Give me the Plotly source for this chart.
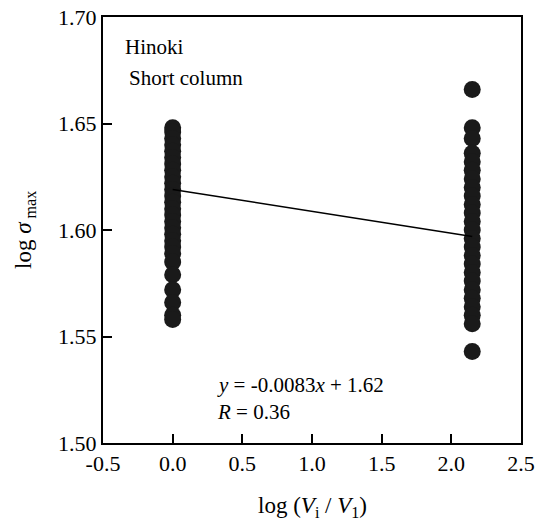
import plotly.graph_objects as go

# data
x_left = 0.0
y_left = [1.648, 1.646, 1.643, 1.640, 1.637, 1.634, 1.631, 1.628, 1.625, 1.622,
          1.619, 1.616, 1.613, 1.610, 1.607, 1.604, 1.601, 1.598, 1.595, 1.592,
          1.589, 1.585, 1.579, 1.572, 1.566, 1.560, 1.558]
x_right = 2.15
y_right = [1.666, 1.648, 1.643, 1.636, 1.632, 1.628, 1.624, 1.620, 1.616, 1.612,
           1.608, 1.604, 1.600, 1.596, 1.592, 1.588, 1.584, 1.580, 1.576, 1.572,
           1.568, 1.564, 1.560, 1.556, 1.543]
fit_x = [0.0, 2.15]
fit_y = [1.619, 1.597]
x_ticks = [-0.5, 0.0, 0.5, 1.0, 1.5, 2.0, 2.5]
x_ticktext = ["-0.5", "0.0", "0.5", "1.0", "1.5", "2.0", "2.5"]
y_ticks = [1.50, 1.55, 1.60, 1.65, 1.70]
y_ticktext = ["1.50", "1.55", "1.60", "1.65", "1.70"]

FONT = "Liberation Serif"

fig = go.Figure()
xs = [x_left] * len(y_left) + [x_right] * len(y_right)
ys = y_left + y_right
fig.add_trace(go.Scatter(x=xs, y=ys, mode="markers",
                         marker=dict(size=17, color="#1a1a1a", line=dict(width=0)),
                         showlegend=False, hoverinfo="skip"))
fig.add_trace(go.Scatter(x=fit_x, y=fit_y, mode="lines",
                         line=dict(color="black", width=1.5),
                         showlegend=False, hoverinfo="skip"))

axis_common = dict(showgrid=False, zeroline=False, showline=True, linecolor="black",
                   linewidth=2, mirror=True, ticks="inside", ticklen=9, tickwidth=1.5,
                   tickcolor="black", ticklabeloverflow="allow",
                   tickfont=dict(family=FONT, size=22, color="black"))

fig.update_xaxes(range=[-0.5, 2.5], tickvals=x_ticks, ticktext=x_ticktext,
                 **axis_common)
fig.update_yaxes(range=[1.50, 1.70], tickvals=y_ticks, ticktext=y_ticktext,
                 **axis_common)

fig.add_annotation(text="log (<i>V</i><sub>i</sub> / <i>V</i><sub>1</sub>)",
                   xref="paper", yref="paper", x=0.5, y=0, yshift=-64,
                   xanchor="center", yanchor="middle", showarrow=False,
                   font=dict(family=FONT, size=23, color="black"))
fig.add_annotation(text="log <i>σ</i><sub> max</sub>",
                   xref="paper", yref="paper", x=0, y=0.5, xshift=-78,
                   xanchor="center", yanchor="middle", textangle=-90, showarrow=False,
                   font=dict(family=FONT, size=23, color="black"))
fig.add_annotation(text="Hinoki", xref="paper", yref="paper", x=0, y=1,
                   xshift=20, yshift=-30, xanchor="left", yanchor="middle",
                   showarrow=False, font=dict(family=FONT, size=21, color="black"))
fig.add_annotation(text="Short column", xref="paper", yref="paper", x=0, y=1,
                   xshift=24, yshift=-61, xanchor="left", yanchor="middle",
                   showarrow=False, font=dict(family=FONT, size=21, color="black"))
fig.add_annotation(text="<i>y</i> = -0.0083<i>x</i> + 1.62", xref="paper", yref="paper",
                   x=0, y=0, xshift=112, yshift=58, xanchor="left", yanchor="middle",
                   showarrow=False, font=dict(family=FONT, size=21, color="black"))
fig.add_annotation(text="<i>R</i> = 0.36", xref="paper", yref="paper",
                   x=0, y=0, xshift=112, yshift=31, xanchor="left", yanchor="middle",
                   showarrow=False, font=dict(family=FONT, size=21, color="black"))

fig.update_layout(width=540, height=524, margin=dict(l=103, r=5, t=14, b=81),
                  paper_bgcolor="white", plot_bgcolor="white",
                  font=dict(family=FONT, color="black"))

fig.write_html("out.html")
